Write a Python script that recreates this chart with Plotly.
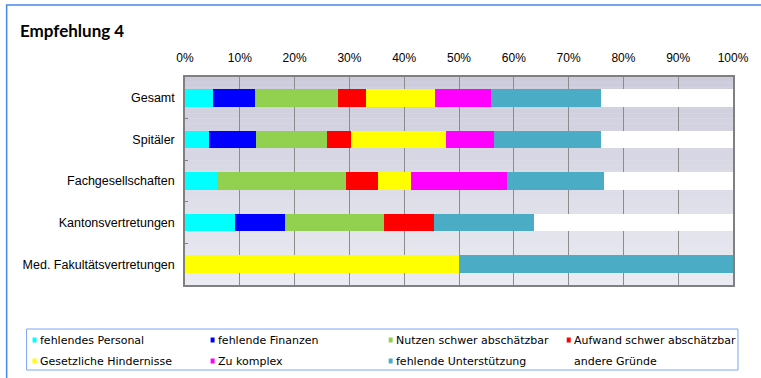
import plotly.graph_objects as go

# Response groups (top to bottom)
categories = ["Gesamt", "Spitäler", "Fachgesellschaften",
              "Kantonsvertretungen", "Med. Fakultätsvertretungen"]

# Reasons and their shares in percent, per group
series_names = ["fehlendes Personal", "fehlende Finanzen",
                "Nutzen schwer abschätzbar", "Aufwand schwer abschätzbar",
                "Gesetzliche Hindernisse", "Zu komplex",
                "fehlende Unterstützung", "andere Gründe"]
personal = [5.1, 4.3, 5.9, 9.1, 0]
finanzen = [7.6, 8.7, 0, 9.1, 0]
nutzen = [15.2, 13.0, 23.5, 18.2, 0]
aufwand = [5.1, 4.3, 5.9, 9.1, 0]
gesetz = [12.7, 17.4, 5.9, 0, 50]
komplex = [10.1, 8.7, 17.6, 0, 0]
unterstuetzung = [20.2, 19.6, 17.6, 18.2, 50]
andere = [24.0, 24.0, 23.6, 36.3, 0]
series_values = [personal, finanzen, nutzen, aufwand,
                 gesetz, komplex, unterstuetzung, andere]
series_colors = ["#00ffff", "#0000ff", "#92d050", "#ff0000",
                 "#ffff00", "#ff00ff", "#4bacc6", "#ffffff"]

tick_vals = list(range(0, 101, 10))
tick_text = [f"{v}%" for v in tick_vals]

W, H = 761, 378
L, R, T, B = 185, 26, 77, 93
PW, PH = W - L - R, H - T - B


def px_x(px):
    return (px - L) / PW


def px_y(py):
    return (H - B - py) / PH


fig = go.Figure()
for name, vals, col in zip(series_names, series_values, series_colors):
    fig.add_trace(go.Bar(
        y=categories, x=vals, name=name, orientation="h",
        marker=dict(color=col, line=dict(width=0)),
        showlegend=False,
    ))

shapes = []
# vertical gradient of the plotting background
n_strips = 40
top_rgb = (203, 203, 219)
bot_rgb = (235, 235, 243)
for i in range(n_strips):
    t = i / (n_strips - 1)
    c = tuple(round(top_rgb[k] + (bot_rgb[k] - top_rgb[k]) * t) for k in range(3))
    shapes.append(dict(
        type="rect", xref="x domain", yref="y domain",
        x0=0, x1=1, y0=1 - (i + 1) / n_strips, y1=1 - i / n_strips,
        fillcolor=f"rgb{c}", line=dict(width=0), layer="below",
    ))

# outer chart frame
shapes.append(dict(
    type="rect", xref="paper", yref="paper",
    x0=px_x(6), x1=px_x(W + 20), y0=px_y(H + 20), y1=px_y(5),
    line=dict(color="#4a86f0", width=1.5), fillcolor="rgba(0,0,0,0)",
))

# legend box
shapes.append(dict(
    type="rect", xref="paper", yref="paper",
    x0=px_x(26), x1=px_x(740), y0=px_y(370), y1=px_y(329),
    line=dict(color="#7aa6f2", width=1), fillcolor="rgba(0,0,0,0)",
))

annotations = []
# hand-placed legend: 4 columns, 2 rows
for i, (name, col) in enumerate(zip(series_names, series_colors)):
    c, r = i % 4, i // 4
    mx = 32 + c * 178.7
    my = 340 + r * 21
    shapes.append(dict(
        type="rect", xref="paper", yref="paper",
        x0=px_x(mx), x1=px_x(mx + 4), y0=px_y(my + 2.5), y1=px_y(my - 2.5),
        fillcolor=col, line=dict(width=0),
    ))
    annotations.append(dict(
        xref="paper", yref="paper", x=px_x(mx + 5), y=px_y(my),
        text=name, showarrow=False, xanchor="left", yanchor="middle",
        font=dict(family="DejaVu Sans", size=11, color="#000000"),
    ))

annotations.append(dict(
    xref="paper", yref="paper", x=px_x(17), y=px_y(31),
    text="<b>Empfehlung 4</b>", showarrow=False,
    xanchor="left", yanchor="middle",
    font=dict(family="Lato", size=17, color="#000000"),
))

fig.update_layout(
    width=W, height=H,
    margin=dict(l=L, r=R, t=T, b=B, pad=0),
    barmode="stack", bargap=0.58,
    paper_bgcolor="#ffffff", plot_bgcolor="#e6e6ef",
    shapes=shapes, annotations=annotations,
    showlegend=False,
    xaxis=dict(
        side="top", range=[0, 100], tickvals=tick_vals, ticktext=tick_text,
        showgrid=True, gridcolor="#8c8c8c", gridwidth=1,
        zeroline=False, showline=True, linecolor="#808080", linewidth=1.5,
        mirror=True, ticks="", ticklabelstandoff=8,
        tickfont=dict(family="Liberation Sans", size=12, color="#000000"),
        fixedrange=True,
    ),
    yaxis=dict(
        categoryorder="array", categoryarray=categories, autorange="reversed",
        showgrid=False, zeroline=False, showline=True, linecolor="#808080",
        linewidth=1.5, mirror=True, ticks="inside", ticklen=3,
        tickcolor="#808080", tickson="boundaries", ticklabelstandoff=6,
        tickfont=dict(family="Liberation Sans", size=12.5, color="#000000"),
        fixedrange=True,
    ),
)

fig.write_html("out.html")
